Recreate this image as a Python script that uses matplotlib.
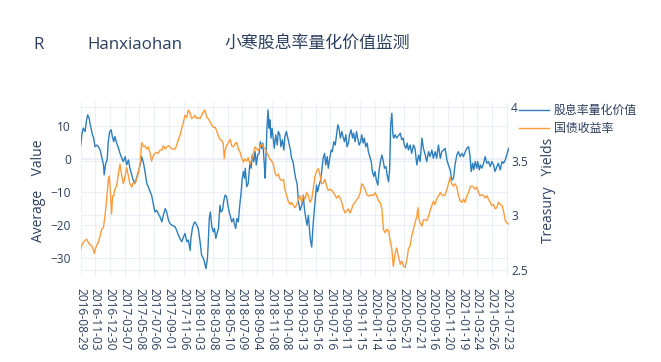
import numpy as np
import matplotlib
matplotlib.use("Agg")
import matplotlib.pyplot as plt

plt.rcParams['font.family'] = ['Open Sans', 'Noto Sans CJK SC', 'DejaVu Sans']

# ---------------- data ----------------
tick_labels = ["2016-08-29", "2016-11-03", "2016-12-30", "2017-03-07", "2017-05-08",
               "2017-07-06", "2017-09-01", "2017-11-06", "2018-01-03", "2018-03-08",
               "2018-05-10", "2018-07-09", "2018-09-04", "2018-11-08", "2019-01-08",
               "2019-03-13", "2019-05-16", "2019-07-16", "2019-09-11", "2019-11-15",
               "2020-01-14", "2020-03-19", "2020-05-21", "2020-07-21", "2020-09-16",
               "2020-11-20", "2021-01-19", "2021-03-24", "2021-05-26", "2021-07-23"]
tick_step_days = 40
n_days = 1167

div_day = [0, 3, 7, 12, 16, 19, 23, 25, 28, 32, 35, 39, 44, 48, 53, 57, 62, 64, 68, 72,
           75, 79, 83, 86, 90, 93, 98, 103, 107, 112, 116, 121, 125, 130, 134, 139, 143, 148, 152, 157,
           162, 166, 171, 175, 180, 184, 189, 193, 198, 202, 207, 211, 216, 221, 225, 230, 234, 239, 243, 248,
           252, 257, 261, 266, 270, 275, 280, 284, 289, 293, 298,
           300, 304, 308, 311, 316, 320, 325, 329, 334, 338, 341, 345, 347, 350, 353, 357, 361, 364, 368, 371,
           375, 379, 382, 386, 389, 393, 397, 400, 404, 407, 411, 416, 418, 422, 425, 429, 433, 436, 440, 443,
           446, 448, 452, 456, 461, 464, 467, 471, 475, 478, 482, 486, 489, 493, 496, 500, 502, 505, 507, 510,
           513, 515, 518, 521, 525, 527, 531, 535, 538, 542, 545, 549, 553, 556, 560, 564, 567, 571, 574, 578,
           582, 585, 589, 593, 597,
           602, 606, 609, 613, 616, 620, 624, 626, 629, 632, 634, 638, 642, 645, 649, 653, 656, 660, 664, 667,
           671, 674, 678, 682, 685, 689, 693, 696, 700, 703, 707, 711, 714, 718, 722, 725, 729, 732, 736, 740,
           743, 747, 751, 754, 758, 762, 765, 769, 772, 776, 780, 783, 787, 791, 794, 798, 801, 805, 809, 812,
           816, 820, 823, 827, 831, 834, 838, 841, 844, 847, 850, 852, 856, 860, 863, 867, 870, 874, 878, 881,
           885, 889, 892,
           897, 901, 906, 910, 915, 920, 924, 929, 933, 938, 942, 947, 951, 956, 960, 965, 969, 974, 979, 983,
           988, 992, 997, 1001, 1006, 1010, 1015, 1019, 1024, 1028, 1033, 1038, 1042, 1047, 1051, 1056, 1060, 1063, 1067, 1070,
           1074, 1078, 1081, 1085, 1088, 1092, 1097, 1101, 1106, 1110, 1115, 1119, 1124, 1128, 1133, 1137, 1142, 1147, 1151, 1156,
           1160, 1165]
div_value = [4.2, 7.3, 9.3, 8.3, 11.8, 13.3, 12.3, 10.8, 9.4, 7.3, 6.4, 3.7, 4.2, 3.7, 2.7, 0.7, -1.8, -4.8, -1.3, -0.3,
             5.2, 8.3, 8.8, 6.8, 5.2, 6.8, 4.8, 3.2, 1.7, 0.2, -0.8, 0.7, -1.8, -0.3, -2.8, -4.8, -6.4, -7.4, -5.8, -3.8,
             -1.8, 0.7, -1.3, -3.8, -7.4, -8.4, -9.9, -10.9, -13.9, -16.0, -15.5, -16.5, -17.5, -19.0, -17.0, -15.0, -16.0, -18.5, -19.5, -20.0,
             -20.2, -20.5, -21.5, -23.0, -24.0, -25.0, -23.5, -22.5, -25.0, -24.5, -27.6,
             -24.0, -21.0, -19.5, -19.0, -20.0, -21.0, -25.0, -29.0, -30.0, -31.6, -33.1, -30.0, -26.0, -18.0, -16.0, -20.5, -22.0, -21.0, -24.0, -22.5,
             -21.0, -14.0, -16.0, -15.5, -13.0, -10.9, -11.4, -13.4, -16.0, -17.0, -19.0, -18.0, -19.5, -21.0, -18.0, -19.0, -14.0, -10.9, -5.8, -3.8,
             -5.8, -2.8, -8.4, -7.4, -0.8, -2.8, 1.2, -0.8, 2.2, -1.8, 1.2, 1.7, 5.2, 3.2, 4.8, -1.8, -5.8, 2.2, 9.3, 14.8,
             9.3, 11.8, 6.3, 9.3, 5.2, 3.2, 7.3, 4.2, 8.3, 7.3, 3.7, 5.8, 2.7, 6.8, 8.3, 6.3, 4.8, 2.7, 0.2, -0.8,
             -3.8, -5.8, -7.4, -13.0, -15.5,
             -14.0, -10.9, -15.0, -18.0, -20.0, -17.0, -23.0, -25.0, -26.6, -21.0, -18.0, -13.0, -7.9, -9.9, -7.9, -6.4, -3.8, 0.2, 1.7, -1.8,
             0.7, -2.8, 0.2, 2.7, 2.2, 5.2, 4.2, 6.8, 10.3, 9.3, 6.3, 8.3, 6.8, 5.2, 7.3, 3.7, 4.8, 7.3, 8.8, 6.3,
             7.8, 5.2, 8.3, 6.3, 4.2, 5.2, 7.3, 4.8, 6.3, 3.7, 4.8, 2.2, 0.7, -0.8, -3.8, -5.3, -3.8, -6.4, -7.9, -3.8,
             -0.8, 1.2, -0.3, -2.8, -2.3, -4.8, -6.9, -3.3, 10.3, 13.8, 7.3, 6.3, 7.3, 6.3, 6.8, 7.3, 7.8, 5.8, 6.3, 4.2,
             3.2, 4.8, 2.7,
             4.2, 1.7, 4.2, 3.2, -1.8, 1.2, -0.8, 6.3, 3.2, 1.2, -0.8, 2.2, 0.7, 2.7, 0.2, 2.2, 0.2, 4.2, 0.2, 2.2,
             2.7, 3.2, -0.3, -1.8, -3.3, -6.4, -5.8, -1.8, 1.2, 2.2, 0.7, 1.7, 0.7, 2.2, 3.2, 3.7, 0.7, -3.8, -1.3, -3.3,
             -0.8, -2.8, -0.8, -3.3, -1.8, -2.8, -1.3, 0.7, -1.3, -0.8, -2.3, -0.8, -1.8, -3.8, -2.3, -1.3, -3.3, -0.8, -1.3, -0.3,
             1.2, 3.2]

bond_day = [0, 3, 7, 12, 16, 21, 25, 30, 34, 37, 41, 44, 48, 53, 57, 62, 66, 69, 73, 75,
            78, 81, 84, 87, 90, 93, 98, 103, 107, 112, 116, 121, 125, 130, 134, 139, 143, 148, 152, 157,
            162, 166, 171, 175, 180, 184, 189, 193, 198, 202, 207, 211, 216, 221, 225, 230, 234, 239, 243, 248,
            252, 257, 261, 266, 270, 275, 280, 284, 289, 293, 298,
            302, 307, 311, 316, 320, 325, 329, 334, 337, 340, 344, 347, 352, 357, 361, 366, 370, 375, 379, 384,
            388, 391, 394, 397, 402, 407, 411, 416, 420, 425, 429, 434, 438, 443, 447, 452, 456, 461, 466, 470,
            475, 479, 484, 488, 493, 497, 502, 506, 511, 515, 520, 525, 529, 534, 538, 543, 547, 552, 556, 561,
            565, 570, 574, 579, 584, 588, 593, 597,
            602, 606, 611, 615, 620, 624, 629, 634, 638, 643, 647, 652, 656, 661, 665, 670, 674, 679, 683, 688,
            693, 697, 702, 706, 711, 715, 720, 724, 729, 733, 738, 742, 747, 752, 756, 761, 765, 770, 774, 779,
            783, 788, 792, 797, 801, 806, 811, 815, 820, 824, 829, 833, 838, 842, 847, 851, 856, 860, 865, 870,
            874, 879, 883, 888, 892, 897,
            901, 906, 910, 915, 918, 921, 924, 929, 933, 938, 942, 947, 951, 956, 960, 965, 969, 974, 979, 983,
            988, 992, 997, 1001, 1006, 1010, 1015, 1019, 1024, 1028, 1033, 1038, 1042, 1047, 1051, 1056, 1060, 1065, 1069, 1074,
            1078, 1083, 1087, 1092, 1097, 1101, 1106, 1110, 1115, 1119, 1124, 1128, 1133, 1137, 1142, 1147, 1151, 1156, 1160, 1165]
bond_value = [2.69, 2.72, 2.75, 2.77, 2.78, 2.75, 2.73, 2.72, 2.69, 2.65, 2.70, 2.73, 2.75, 2.81, 2.87, 2.89, 2.99, 3.09, 3.24, 3.33,
              3.36, 3.21, 3.01, 3.18, 3.18, 3.24, 3.27, 3.39, 3.47, 3.36, 3.29, 3.36, 3.44, 3.36, 3.29, 3.26, 3.30, 3.29, 3.33, 3.39,
              3.49, 3.67, 3.63, 3.64, 3.61, 3.63, 3.57, 3.50, 3.55, 3.57, 3.58, 3.57, 3.60, 3.60, 3.64, 3.61, 3.63, 3.64, 3.63, 3.61,
              3.61, 3.61, 3.64, 3.70, 3.73, 3.80, 3.86, 3.92, 3.90, 3.97, 3.94,
              3.89, 3.90, 3.92, 3.89, 3.90, 3.89, 3.92, 3.95, 3.97, 3.94, 3.90, 3.89, 3.86, 3.83, 3.81, 3.81, 3.78, 3.73, 3.70, 3.69,
              3.66, 3.52, 3.61, 3.64, 3.67, 3.70, 3.64, 3.63, 3.66, 3.67, 3.61, 3.58, 3.53, 3.49, 3.52, 3.50, 3.53, 3.47, 3.52, 3.57,
              3.63, 3.61, 3.60, 3.63, 3.66, 3.63, 3.61, 3.58, 3.55, 3.52, 3.50, 3.46, 3.39, 3.36, 3.38, 3.33, 3.32, 3.33, 3.24, 3.18,
              3.13, 3.10, 3.12, 3.09, 3.07, 3.10, 3.15, 3.18,
              3.12, 3.18, 3.15, 3.21, 3.18, 3.12, 3.15, 3.27, 3.36, 3.41, 3.43, 3.36, 3.29, 3.30, 3.33, 3.26, 3.23, 3.24, 3.23, 3.21,
              3.18, 3.16, 3.18, 3.16, 3.12, 3.06, 3.02, 3.04, 3.06, 3.02, 3.06, 3.10, 3.12, 3.15, 3.16, 3.21, 3.29, 3.27, 3.24, 3.19,
              3.18, 3.18, 3.19, 3.18, 3.21, 3.18, 3.13, 3.12, 3.06, 2.87, 2.84, 2.87, 2.86, 2.78, 2.69, 2.53, 2.65, 2.70, 2.62, 2.55,
              2.58, 2.53, 2.52, 2.59, 2.69, 2.72,
              2.81, 2.87, 2.93, 2.99, 3.07, 2.96, 2.93, 2.90, 2.96, 2.96, 2.95, 2.99, 3.04, 3.09, 3.13, 3.10, 3.15, 3.18, 3.21, 3.19,
              3.18, 3.19, 3.24, 3.29, 3.35, 3.29, 3.27, 3.29, 3.26, 3.19, 3.13, 3.12, 3.15, 3.12, 3.18, 3.21, 3.26, 3.27, 3.26, 3.24,
              3.26, 3.21, 3.18, 3.19, 3.18, 3.16, 3.18, 3.15, 3.12, 3.09, 3.10, 3.06, 3.07, 3.12, 3.10, 3.09, 3.04, 2.95, 2.93, 2.92]

div_name = "股息率量化价值"
bond_name = "国债收益率"

# ---------------- style ----------------
W, H = 661, 362
grid_c = "#EBF0F8"
text_c = "#2a3f5f"
blue = "#2f7ebc"
orange = "#ff9b3a"

fig = plt.figure(figsize=(W / 100, H / 100), dpi=100)
ax_l, ax_r_px, ax_t, ax_b = 80.7, 509.0, 102.0, 276.5
ax = fig.add_axes([ax_l / W, 1 - ax_b / H, (ax_r_px - ax_l) / W, (ax_b - ax_t) / H])
ax2 = ax.twinx()

ax.set_zorder(1)
ax2.set_zorder(2)
ax.patch.set_visible(False)
ax2.patch.set_visible(False)

ax.set_xlim(0, n_days - 1)
ax.set_ylim(-35.5, 17.2)
ax2.set_ylim(2.437, 4.043)

# grids
for v in [-30, -20, -10, 10]:
    ax.axhline(v, color=grid_c, lw=0.75, zorder=0)
ax.axhline(0, color=grid_c, lw=1.5, zorder=0)
for v in [2.5, 3.0, 3.5, 4.0]:
    ax.axhline(ax.get_ylim()[0] + (v - 2.437) / (4.043 - 2.437) * (17.2 + 35.5), color=grid_c, lw=0.75, zorder=0)
xt = np.arange(len(tick_labels)) * tick_step_days
for x in xt:
    ax.axvline(x, color=grid_c, lw=0.75, zorder=0)

l1, = ax2.plot(div_day, div_value, color=blue, lw=1.0, label=div_name, transform=ax.transData)
l2, = ax2.plot(bond_day, bond_value, color=orange, lw=1.0, label=bond_name)

for a in (ax, ax2):
    for s in a.spines.values():
        s.set_visible(False)
    a.tick_params(length=0, colors=text_c, labelsize=8.6)

ax.set_xticks(xt)
ax.set_xticklabels(tick_labels, rotation=-90, va='top', ha='center')
ax.tick_params(axis='x', pad=8)
ax.set_yticks([-30, -20, -10, 0, 10])
ax.set_yticklabels(["\u221230", "\u221220", "\u221210", "0", "10"])
ax.tick_params(axis='y', pad=7)
ax2.set_yticks([2.5, 3, 3.5, 4])
ax2.set_yticklabels(["2.5", "3", "3.5", "4"])
ax2.tick_params(axis='y', pad=1.5)

# titles
fig.text(33 / W, 1 - 45 / H, "R", fontsize=12.2, color=text_c, va='center', ha='left')
fig.text(87 / W, 1 - 45 / H, "Hanxiaohan", fontsize=12.2, color=text_c, va='center', ha='left')
fig.text(224 / W, 1 - 45 / H, "小寒股息率量化价值监测", fontsize=12.2, color=text_c, va='center', ha='left')

fig.text(38 / W, 1 - 191 / H, "Average    Value", rotation=90, fontsize=10, color=text_c,
         va='center', ha='center')
fig.text(548 / W, 1 - 190 / H, "Treasury   Yields", rotation=90, fontsize=10, color=text_c,
         va='center', ha='center')

leg = fig.legend(handles=[l1, l2], loc='upper left', bbox_to_anchor=(519 / W, 1 - 104 / H),
                 frameon=False, fontsize=8.6, handlelength=2.5, handletextpad=0.4,
                 labelspacing=0.45, borderpad=0, borderaxespad=0)
for t in leg.get_texts():
    t.set_color(text_c)

fig.savefig("out.png", dpi=100)
